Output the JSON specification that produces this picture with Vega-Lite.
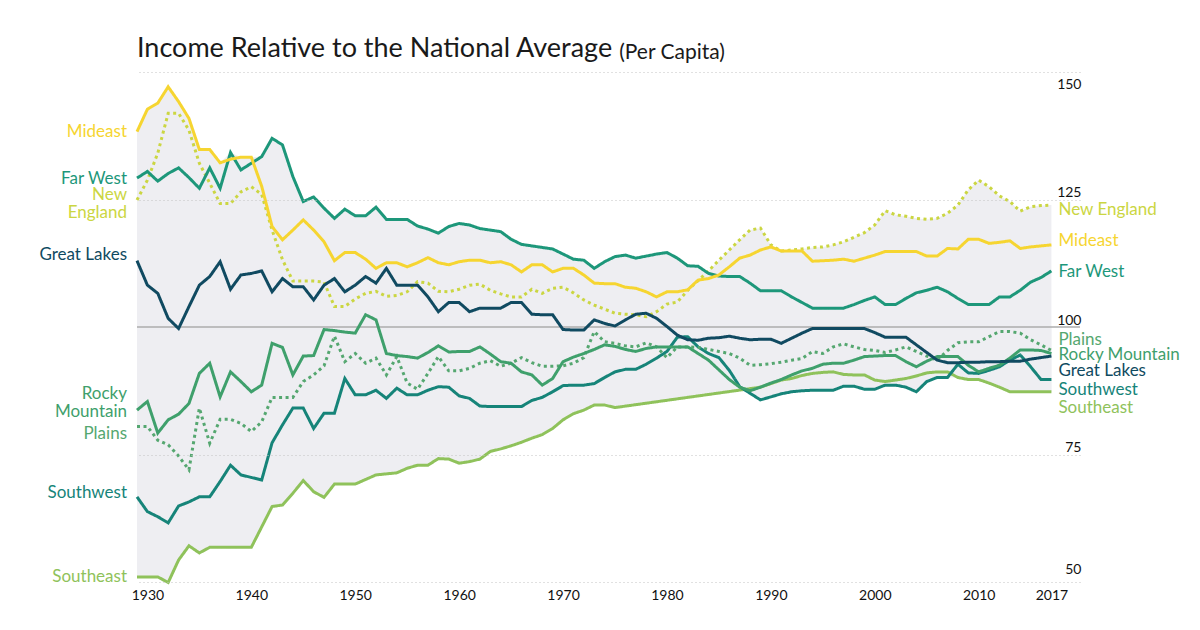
{
 "$schema": "https://vega.github.io/schema/vega-lite/v6.json",
 "width": 943, "height": 510,
 "autosize": {"type": "none"},
 "padding": {"left": 137, "top": 72, "right": 120, "bottom": 48},
 "background": "white",
 "config": {"view": {"stroke": null}, "font": "Lato"},
 "title": {
  "text": "Income Relative to the National Average",
  "anchor": "start", "frame": "group",
  "font": "Lato", "fontSize": 27, "fontWeight": "normal", "color": "#1a1a1a",
  "offset": 8, "dy": 29
 },
 "data": {"values": [
  {"year":1929,"Mideast":138.3,"Far West":129.2,"New England":124.9,"Great Lakes":113.0,"Rocky Mountain":83.7,"Plains":80.5,"Southwest":66.7,"Southeast":51.0},
  {"year":1930,"Mideast":142.7,"Far West":130.5,"New England":128.8,"Great Lakes":108.2,"Rocky Mountain":85.4,"Plains":80.5,"Southwest":63.8,"Southeast":51.0},
  {"year":1931,"Mideast":143.9,"Far West":128.6,"New England":134.1,"Great Lakes":106.6,"Rocky Mountain":79.2,"Plains":77.8,"Southwest":62.8,"Southeast":51.0},
  {"year":1932,"Mideast":147.1,"Far West":130.1,"New England":141.9,"Great Lakes":101.7,"Rocky Mountain":81.8,"Plains":76.9,"Southwest":61.6,"Southeast":49.9},
  {"year":1933,"Mideast":144.2,"Far West":131.2,"New England":141.9,"Great Lakes":99.7,"Rocky Mountain":82.9,"Plains":74.7,"Southwest":64.9,"Southeast":54.3},
  {"year":1934,"Mideast":140.9,"Far West":129.3,"New England":138.6,"Great Lakes":104.0,"Rocky Mountain":85.0,"Plains":72.0,"Southwest":65.7,"Southeast":57.1},
  {"year":1935,"Mideast":134.8,"Far West":127.2,"New England":132.1,"Great Lakes":108.2,"Rocky Mountain":90.9,"Plains":84.1,"Southwest":66.7,"Southeast":55.7},
  {"year":1936,"Mideast":134.8,"Far West":131.2,"New England":128.2,"Great Lakes":109.9,"Rocky Mountain":92.9,"Plains":77.2,"Southwest":66.7,"Southeast":56.8},
  {"year":1937,"Mideast":132.2,"Far West":127.2,"New England":124.2,"Great Lakes":112.8,"Rocky Mountain":86.3,"Plains":81.9,"Southwest":69.7,"Southeast":56.8},
  {"year":1938,"Mideast":132.9,"Far West":134.2,"New England":124.2,"Great Lakes":107.4,"Rocky Mountain":91.2,"Plains":81.9,"Southwest":72.9,"Southeast":56.8},
  {"year":1939,"Mideast":133.3,"Far West":130.8,"New England":126.5,"Great Lakes":110.2,"Rocky Mountain":89.3,"Plains":81.1,"Southwest":71.0,"Southeast":56.8},
  {"year":1940,"Mideast":133.3,"Far West":132.1,"New England":127.5,"Great Lakes":110.5,"Rocky Mountain":87.3,"Plains":79.5,"Southwest":70.5,"Southeast":56.8},
  {"year":1941,"Mideast":127.6,"Far West":133.4,"New England":126.0,"Great Lakes":111.0,"Rocky Mountain":88.6,"Plains":81.4,"Southwest":70.0,"Southeast":60.8},
  {"year":1942,"Mideast":119.7,"Far West":137.0,"New England":119.0,"Great Lakes":106.9,"Rocky Mountain":96.8,"Plains":86.2,"Southwest":77.3,"Southeast":64.8},
  {"year":1943,"Mideast":117.1,"Far West":135.7,"New England":113.2,"Great Lakes":109.5,"Rocky Mountain":96.0,"Plains":86.2,"Southwest":80.8,"Southeast":65.1},
  {"year":1944,"Mideast":119.0,"Far West":129.5,"New England":109.0,"Great Lakes":107.9,"Rocky Mountain":90.6,"Plains":86.2,"Southwest":84.1,"Southeast":67.4},
  {"year":1945,"Mideast":121.0,"Far West":124.6,"New England":109.0,"Great Lakes":107.9,"Rocky Mountain":94.3,"Plains":89.3,"Southwest":84.1,"Southeast":69.9},
  {"year":1946,"Mideast":119.0,"Far West":125.5,"New England":109.0,"Great Lakes":105.3,"Rocky Mountain":94.4,"Plains":90.6,"Southwest":80.1,"Southeast":67.7},
  {"year":1947,"Mideast":116.7,"Far West":123.3,"New England":108.8,"Great Lakes":108.2,"Rocky Mountain":99.5,"Plains":92.4,"Southwest":83.1,"Southeast":66.6},
  {"year":1948,"Mideast":113.0,"Far West":121.3,"New England":104.0,"Great Lakes":109.5,"Rocky Mountain":99.3,"Plains":98.2,"Southwest":83.1,"Southeast":69.2},
  {"year":1949,"Mideast":114.6,"Far West":123.1,"New England":104.0,"Great Lakes":106.9,"Rocky Mountain":99.0,"Plains":93.2,"Southwest":89.9,"Southeast":69.2},
  {"year":1950,"Mideast":114.6,"Far West":121.8,"New England":105.5,"Great Lakes":108.2,"Rocky Mountain":98.8,"Plains":94.8,"Southwest":86.7,"Southeast":69.2},
  {"year":1951,"Mideast":113.3,"Far West":121.8,"New England":106.6,"Great Lakes":109.9,"Rocky Mountain":102.4,"Plains":92.9,"Southwest":86.7,"Southeast":70.1},
  {"year":1952,"Mideast":111.5,"Far West":123.5,"New England":107.0,"Great Lakes":108.6,"Rocky Mountain":101.4,"Plains":93.9,"Southwest":87.6,"Southeast":71.0},
  {"year":1953,"Mideast":112.6,"Far West":121.1,"New England":106.0,"Great Lakes":111.5,"Rocky Mountain":94.8,"Plains":90.6,"Southwest":86.0,"Southeast":71.2},
  {"year":1954,"Mideast":112.6,"Far West":121.1,"New England":106.2,"Great Lakes":108.2,"Rocky Mountain":94.4,"Plains":94.2,"Southwest":88.0,"Southeast":71.4},
  {"year":1955,"Mideast":111.8,"Far West":121.1,"New England":106.9,"Great Lakes":108.2,"Rocky Mountain":94.2,"Plains":89.0,"Southwest":86.7,"Southeast":72.3},
  {"year":1956,"Mideast":112.6,"Far West":119.8,"New England":108.9,"Great Lakes":108.2,"Rocky Mountain":93.9,"Plains":87.8,"Southwest":86.7,"Southeast":72.9},
  {"year":1957,"Mideast":113.6,"Far West":119.2,"New England":108.6,"Great Lakes":105.9,"Rocky Mountain":95.0,"Plains":90.9,"Southwest":87.6,"Southeast":72.9},
  {"year":1958,"Mideast":112.6,"Far West":118.4,"New England":107.0,"Great Lakes":103.0,"Rocky Mountain":96.3,"Plains":94.2,"Southwest":88.3,"Southeast":74.2},
  {"year":1959,"Mideast":112.2,"Far West":119.7,"New England":106.9,"Great Lakes":104.8,"Rocky Mountain":95.1,"Plains":91.4,"Southwest":88.2,"Southeast":74.1},
  {"year":1960,"Mideast":112.8,"Far West":120.3,"New England":107.4,"Great Lakes":104.8,"Rocky Mountain":95.2,"Plains":91.4,"Southwest":86.5,"Southeast":73.3},
  {"year":1961,"Mideast":113.1,"Far West":120.0,"New England":108.2,"Great Lakes":103.0,"Rocky Mountain":95.2,"Plains":91.9,"Southwest":86.0,"Southeast":73.6},
  {"year":1962,"Mideast":113.1,"Far West":119.3,"New England":108.4,"Great Lakes":103.7,"Rocky Mountain":96.1,"Plains":92.9,"Southwest":84.5,"Southeast":74.1},
  {"year":1963,"Mideast":112.6,"Far West":119.0,"New England":107.2,"Great Lakes":103.7,"Rocky Mountain":94.7,"Plains":93.4,"Southwest":84.4,"Southeast":75.6},
  {"year":1964,"Mideast":112.8,"Far West":118.7,"New England":106.5,"Great Lakes":103.7,"Rocky Mountain":93.2,"Plains":92.3,"Southwest":84.4,"Southeast":76.1},
  {"year":1965,"Mideast":112.2,"Far West":117.2,"New England":105.9,"Great Lakes":104.8,"Rocky Mountain":92.9,"Plains":92.9,"Southwest":84.4,"Southeast":76.7},
  {"year":1966,"Mideast":110.8,"Far West":116.2,"New England":105.9,"Great Lakes":104.8,"Rocky Mountain":91.2,"Plains":94.0,"Southwest":84.4,"Southeast":77.4},
  {"year":1967,"Mideast":112.2,"Far West":115.9,"New England":107.4,"Great Lakes":102.5,"Rocky Mountain":90.6,"Plains":93.0,"Southwest":85.6,"Southeast":78.2},
  {"year":1968,"Mideast":112.2,"Far West":115.6,"New England":106.6,"Great Lakes":102.4,"Rocky Mountain":88.6,"Plains":92.3,"Southwest":86.2,"Southeast":78.9},
  {"year":1969,"Mideast":110.8,"Far West":115.3,"New England":107.6,"Great Lakes":102.4,"Rocky Mountain":89.9,"Plains":92.3,"Southwest":87.3,"Southeast":80.1},
  {"year":1970,"Mideast":111.5,"Far West":114.3,"New England":107.8,"Great Lakes":99.5,"Rocky Mountain":93.2,"Plains":92.4,"Southwest":88.5,"Southeast":81.8},
  {"year":1971,"Mideast":111.5,"Far West":113.3,"New England":106.7,"Great Lakes":99.4,"Rocky Mountain":94.1,"Plains":92.9,"Southwest":88.6,"Southeast":83.0},
  {"year":1972,"Mideast":110.2,"Far West":113.1,"New England":105.3,"Great Lakes":99.4,"Rocky Mountain":94.8,"Plains":94.0,"Southwest":88.6,"Southeast":83.7},
  {"year":1973,"Mideast":108.6,"Far West":111.5,"New England":104.3,"Great Lakes":101.4,"Rocky Mountain":95.6,"Plains":99.1,"Southwest":88.9,"Southeast":84.7},
  {"year":1974,"Mideast":108.5,"Far West":112.8,"New England":103.5,"Great Lakes":100.7,"Rocky Mountain":96.5,"Plains":97.1,"Southwest":90.1,"Southeast":84.7},
  {"year":1975,"Mideast":108.5,"Far West":113.8,"New England":102.7,"Great Lakes":100.2,"Rocky Mountain":96.2,"Plains":96.8,"Southwest":91.2,"Southeast":84.2},
  {"year":1976,"Mideast":107.8,"Far West":114.1,"New England":102.5,"Great Lakes":101.4,"Rocky Mountain":95.6,"Plains":96.3,"Southwest":91.7},
  {"year":1977,"Mideast":107.6,"Far West":113.5,"New England":102.4,"Great Lakes":102.5,"Rocky Mountain":95.2,"Plains":96.1,"Southwest":91.7},
  {"year":1978,"Mideast":106.9,"Far West":113.9,"New England":102.0,"Great Lakes":102.7,"Rocky Mountain":95.8,"Plains":96.9,"Southwest":92.7},
  {"year":1979,"Mideast":105.9,"Far West":114.3,"New England":103.0,"Great Lakes":101.7,"Rocky Mountain":96.1,"Plains":96.1,"Southwest":93.9},
  {"year":1980,"Mideast":106.9,"Far West":114.6,"New England":104.5,"Great Lakes":100.1,"Rocky Mountain":96.1,"Plains":94.0,"Southwest":95.2},
  {"year":1981,"Mideast":106.9,"Far West":113.5,"New England":104.9,"Great Lakes":98.4,"Rocky Mountain":96.1,"Plains":96.1,"Southwest":98.0},
  {"year":1982,"Mideast":107.3,"Far West":112.0,"New England":107.2,"Great Lakes":97.5,"Rocky Mountain":96.1,"Plains":96.1,"Southwest":98.1},
  {"year":1983,"Mideast":109.2,"Far West":111.9,"New England":109.1,"Great Lakes":97.4,"Rocky Mountain":94.8,"Plains":96.0,"Southwest":96.1},
  {"year":1984,"Mideast":109.5,"Far West":110.5,"New England":111.0,"Great Lakes":97.8,"Rocky Mountain":93.5,"Plains":95.6,"Southwest":94.8},
  {"year":1985,"Mideast":110.2,"Far West":110.0,"New England":113.1,"Great Lakes":97.9,"Rocky Mountain":91.6,"Plains":95.2,"Southwest":94.0},
  {"year":1986,"Mideast":111.8,"Far West":109.9,"New England":115.1,"Great Lakes":98.2,"Rocky Mountain":89.7,"Plains":94.8,"Southwest":91.5},
  {"year":1987,"Mideast":113.5,"Far West":109.9,"New England":117.1,"Great Lakes":97.8,"Rocky Mountain":88.2,"Plains":93.9,"Southwest":88.3},
  {"year":1988,"Mideast":114.1,"Far West":108.6,"New England":119.0,"Great Lakes":97.5,"Rocky Mountain":87.5,"Plains":92.5,"Southwest":87.0},
  {"year":1989,"Mideast":115.1,"Far West":107.1,"New England":119.4,"Great Lakes":97.6,"Rocky Mountain":88.2,"Plains":92.6,"Southwest":85.7,"Southeast":88.2},
  {"year":1990,"Mideast":115.7,"Far West":107.1,"New England":116.1,"Great Lakes":97.6,"Rocky Mountain":89.0,"Plains":92.8,"Southwest":86.3,"Southeast":88.9},
  {"year":1991,"Mideast":114.9,"Far West":107.1,"New England":114.9,"Great Lakes":96.8,"Rocky Mountain":89.7,"Plains":93.1,"Southwest":86.9,"Southeast":89.6},
  {"year":1992,"Mideast":114.9,"Far West":105.9,"New England":115.1,"Great Lakes":97.8,"Rocky Mountain":90.6,"Plains":93.5,"Southwest":87.3,"Southeast":89.9},
  {"year":1993,"Mideast":114.9,"Far West":104.8,"New England":115.3,"Great Lakes":98.8,"Rocky Mountain":91.4,"Plains":93.8,"Southwest":87.5,"Southeast":90.5},
  {"year":1994,"Mideast":112.9,"Far West":103.7,"New England":115.6,"Great Lakes":99.7,"Rocky Mountain":91.9,"Plains":95.2,"Southwest":87.6,"Southeast":90.9},
  {"year":1995,"Mideast":113.0,"Far West":103.7,"New England":115.7,"Great Lakes":99.7,"Rocky Mountain":92.7,"Plains":94.8,"Southwest":87.6,"Southeast":91.1},
  {"year":1996,"Mideast":113.1,"Far West":103.7,"New England":116.1,"Great Lakes":99.7,"Rocky Mountain":92.9,"Plains":96.1,"Southwest":87.6,"Southeast":91.2},
  {"year":1997,"Mideast":113.3,"Far West":103.7,"New England":116.7,"Great Lakes":99.7,"Rocky Mountain":92.9,"Plains":96.7,"Southwest":88.4,"Southeast":90.7},
  {"year":1998,"Mideast":112.9,"Far West":104.4,"New England":117.6,"Great Lakes":99.7,"Rocky Mountain":93.5,"Plains":96.1,"Southwest":88.4,"Southeast":90.6},
  {"year":1999,"Mideast":113.5,"Far West":105.2,"New England":118.5,"Great Lakes":99.7,"Rocky Mountain":94.2,"Plains":95.6,"Southwest":87.8,"Southeast":90.6},
  {"year":2000,"Mideast":114.1,"Far West":105.9,"New England":120.0,"Great Lakes":98.9,"Rocky Mountain":94.3,"Plains":95.4,"Southwest":87.8,"Southeast":89.6},
  {"year":2001,"Mideast":114.8,"Far West":104.4,"New England":122.8,"Great Lakes":98.0,"Rocky Mountain":94.4,"Plains":95.0,"Southwest":88.6,"Southeast":89.3},
  {"year":2002,"Mideast":114.8,"Far West":104.4,"New England":122.0,"Great Lakes":98.0,"Rocky Mountain":94.4,"Plains":95.5,"Southwest":88.6,"Southeast":89.6},
  {"year":2003,"Mideast":114.8,"Far West":105.6,"New England":121.7,"Great Lakes":98.0,"Rocky Mountain":93.2,"Plains":96.1,"Southwest":88.2,"Southeast":89.9},
  {"year":2004,"Mideast":114.8,"Far West":106.7,"New England":121.3,"Great Lakes":96.5,"Rocky Mountain":92.2,"Plains":95.2,"Southwest":87.3,"Southeast":90.4},
  {"year":2005,"Mideast":113.9,"Far West":107.2,"New England":121.1,"Great Lakes":95.0,"Rocky Mountain":93.3,"Plains":94.3,"Southwest":89.3,"Southeast":91.0},
  {"year":2006,"Mideast":113.9,"Far West":107.8,"New England":121.3,"Great Lakes":93.5,"Rocky Mountain":94.2,"Plains":93.5,"Southwest":90.1,"Southeast":91.2},
  {"year":2007,"Mideast":115.4,"Far West":106.9,"New England":122.3,"Great Lakes":93.0,"Rocky Mountain":94.2,"Plains":95.4,"Southwest":90.1,"Southeast":91.2},
  {"year":2008,"Mideast":115.3,"Far West":105.6,"New England":123.9,"Great Lakes":93.0,"Rocky Mountain":94.2,"Plains":96.9,"Southwest":92.7,"Southeast":90.1},
  {"year":2009,"Mideast":117.2,"Far West":104.4,"New England":126.9,"Great Lakes":93.1,"Rocky Mountain":92.5,"Plains":97.1,"Southwest":91.0,"Southeast":89.7},
  {"year":2010,"Mideast":117.2,"Far West":104.4,"New England":128.8,"Great Lakes":93.1,"Rocky Mountain":91.2,"Plains":97.1,"Southwest":90.9,"Southeast":89.7},
  {"year":2011,"Mideast":116.4,"Far West":104.4,"New England":127.5,"Great Lakes":93.2,"Rocky Mountain":91.9,"Plains":98.1,"Southwest":91.5,"Southeast":89.0},
  {"year":2012,"Mideast":116.6,"Far West":105.9,"New England":125.7,"Great Lakes":93.2,"Rocky Mountain":92.5,"Plains":99.1,"Southwest":92.2,"Southeast":88.2},
  {"year":2013,"Mideast":116.9,"Far West":105.9,"New England":124.6,"Great Lakes":93.3,"Rocky Mountain":93.9,"Plains":99.1,"Southwest":93.5,"Southeast":87.3},
  {"year":2014,"Mideast":115.4,"Far West":107.2,"New England":122.7,"Great Lakes":93.3,"Rocky Mountain":95.5,"Plains":98.8,"Southwest":94.5,"Southeast":87.3},
  {"year":2015,"Mideast":115.7,"Far West":108.8,"New England":123.6,"Great Lakes":93.7,"Rocky Mountain":95.5,"Plains":97.5,"Southwest":92.2,"Southeast":87.3},
  {"year":2016,"Mideast":115.9,"Far West":109.7,"New England":123.8,"Great Lakes":94.0,"Rocky Mountain":95.4,"Plains":96.5,"Southwest":89.7,"Southeast":87.3},
  {"year":2017,"Mideast":116.1,"Far West":111.0,"New England":123.9,"Great Lakes":94.3,"Rocky Mountain":94.8,"Plains":95.4,"Southwest":89.7,"Southeast":87.3}
 ]},
 "transform": [
  {"fold": ["Southeast","Southwest","Plains","Rocky Mountain","New England","Far West","Mideast","Great Lakes"], "as": ["region","value"]},
  {"filter": "isValid(datum.value)"}
 ],
 "layer": [
  {
   "transform": [{"aggregate": [{"op":"max","field":"value","as":"hi"},{"op":"min","field":"value","as":"lo"}], "groupby": ["year"]}],
   "mark": {"type": "area", "color": "#eeeef2"},
   "encoding": {
    "x": {"field":"year","type":"quantitative","title":null,"scale":{"domain":[1929,2019.75],"nice":false,"zero":false},
     "axis":{"values":[1930,1940,1950,1960,1970,1980,1990,2000,2010,2017],"format":"d","title":null,"domain":false,"ticks":false,"grid":false,"labelFontSize":14,"labelColor":"#111111","labelPadding":6,"labelFont":"Lato","labelFlush":false}},
    "y": {"field":"hi","type":"quantitative","title":null,"scale":{"domain":[50,150],"nice":false,"zero":false},
     "axis":{"orient":"right","values":[50,75,100,125,150],"title":null,"domain":false,"ticks":false,"grid":true,"gridColor":"#c2c2c2","gridDash":[1,3],"gridWidth":1,
      "gridOpacity":{"condition":{"test":"datum.value == 100","value":0},"value":1},
      "zindex":1,"labelAlign":"right","labelPadding":1,"labelFontSize":14,"labelColor":"#111111","labelFont":"Lato",
      "labelBaseline":{"condition":{"test":"datum.value == 150","value":"top"},"value":"alphabetic"},
      "labelOffset":{"condition":[{"test":"datum.value == 150","value":5},{"test":"datum.value == 50","value":-9}],"value":-3}}},
    "y2": {"field":"lo"}
   }
  },
  {
   "transform": [{"filter": "datum.region == 'Southeast'"}],
   "mark": {"type": "area", "color": "#eeeef2"},
   "encoding": {
    "x": {"field":"year","type":"quantitative","title":null},
    "y": {"field":"value","type":"quantitative","title":null},
    "y2": {"datum": 100}
   }
  },
  {
   "transform": [{"aggregate": [{"op":"count","as":"n"}]}],
   "mark": {"type": "rule", "color": "#acacac", "strokeWidth": 1.5},
   "encoding": {
    "y": {"datum": 100, "type":"quantitative","title":null}
   }
  },
  {
   "transform": [{"aggregate": [{"op":"count","as":"n"}]}],
   "mark": {"type": "text", "align": "left", "baseline": "alphabetic", "fontSize": 21, "font": "Lato", "color": "#1a1a1a"},
   "encoding": {
    "x": {"datum": 1975.4, "type":"quantitative"},
    "y": {"datum": 152.6, "type":"quantitative"},
    "text": {"value": "(Per Capita)"}
   }
  },
  {
   "mark": {"type": "line", "strokeWidth": 3},
   "encoding": {
    "x": {"field":"year","type":"quantitative","title":null},
    "y": {"field":"value","type":"quantitative","title":null},
    "color": {"field":"region","type":"nominal","legend":null,
     "scale":{"domain":["Mideast","New England","Far West","Great Lakes","Rocky Mountain","Plains","Southwest","Southeast"],
      "range":["#f6d531","#cbd642","#1d977a","#104a61","#3fa06c","#55a770","#168479","#8fc25b"]}},
    "strokeDash": {"field":"region","type":"nominal","legend":null,
     "scale":{"domain":["Mideast","New England","Far West","Great Lakes","Rocky Mountain","Plains","Southwest","Southeast"],
      "range":[[1,0],[3,3.5],[1,0],[1,0],[1,0],[3,3.5],[1,0],[1,0]]}}
   }
  },
  {"transform":[{"filter":"datum.year == 1929 && datum.region == 'Mideast'"}],"mark":{"type":"text","align":"right","baseline":"middle","dx":-10,"dy":0,"fontSize":17,"font":"Lato"},"encoding":{"x":{"field":"year","type":"quantitative","title":null},"y":{"field":"value","type":"quantitative","title":null},"text":{"field":"region"},"color":{"field":"region","type":"nominal","legend":null}}},
  {"transform":[{"filter":"datum.year == 1929 && datum.region == 'Far West'"}],"mark":{"type":"text","align":"right","baseline":"middle","dx":-10,"dy":1,"fontSize":17,"font":"Lato"},"encoding":{"x":{"field":"year","type":"quantitative","title":null},"y":{"field":"value","type":"quantitative","title":null},"text":{"field":"region"},"color":{"field":"region","type":"nominal","legend":null}}},
  {"transform":[{"filter":"datum.year == 1929 && datum.region == 'New England'"}],"mark":{"type":"text","align":"right","baseline":"middle","dx":-10,"dy":-5,"fontSize":17,"font":"Lato","lineBreak":" ","lineHeight":18},"encoding":{"x":{"field":"year","type":"quantitative","title":null},"y":{"field":"value","type":"quantitative","title":null},"text":{"field":"region"},"color":{"field":"region","type":"nominal","legend":null}}},
  {"transform":[{"filter":"datum.year == 1929 && datum.region == 'Great Lakes'"}],"mark":{"type":"text","align":"right","baseline":"middle","dx":-10,"dy":-6,"fontSize":17,"font":"Lato"},"encoding":{"x":{"field":"year","type":"quantitative","title":null},"y":{"field":"value","type":"quantitative","title":null},"text":{"field":"region"},"color":{"field":"region","type":"nominal","legend":null}}},
  {"transform":[{"filter":"datum.year == 1929 && datum.region == 'Rocky Mountain'"}],"mark":{"type":"text","align":"right","baseline":"middle","dx":-10,"dy":-16,"fontSize":17,"font":"Lato","lineBreak":" ","lineHeight":18},"encoding":{"x":{"field":"year","type":"quantitative","title":null},"y":{"field":"value","type":"quantitative","title":null},"text":{"field":"region"},"color":{"field":"region","type":"nominal","legend":null}}},
  {"transform":[{"filter":"datum.year == 1929 && datum.region == 'Plains'"}],"mark":{"type":"text","align":"right","baseline":"middle","dx":-10,"dy":8,"fontSize":17,"font":"Lato"},"encoding":{"x":{"field":"year","type":"quantitative","title":null},"y":{"field":"value","type":"quantitative","title":null},"text":{"field":"region"},"color":{"field":"region","type":"nominal","legend":null}}},
  {"transform":[{"filter":"datum.year == 1929 && datum.region == 'Southwest'"}],"mark":{"type":"text","align":"right","baseline":"middle","dx":-10,"dy":-4,"fontSize":17,"font":"Lato"},"encoding":{"x":{"field":"year","type":"quantitative","title":null},"y":{"field":"value","type":"quantitative","title":null},"text":{"field":"region"},"color":{"field":"region","type":"nominal","legend":null}}},
  {"transform":[{"filter":"datum.year == 1929 && datum.region == 'Southeast'"}],"mark":{"type":"text","align":"right","baseline":"middle","dx":-10,"dy":0,"fontSize":17,"font":"Lato"},"encoding":{"x":{"field":"year","type":"quantitative","title":null},"y":{"field":"value","type":"quantitative","title":null},"text":{"field":"region"},"color":{"field":"region","type":"nominal","legend":null}}},
  {"transform":[{"filter":"datum.year == 2017 && datum.region == 'New England'"}],"mark":{"type":"text","align":"left","baseline":"middle","dx":7,"dy":5,"fontSize":17,"font":"Lato"},"encoding":{"x":{"field":"year","type":"quantitative","title":null},"y":{"field":"value","type":"quantitative","title":null},"text":{"field":"region"},"color":{"field":"region","type":"nominal","legend":null}}},
  {"transform":[{"filter":"datum.year == 2017 && datum.region == 'Mideast'"}],"mark":{"type":"text","align":"left","baseline":"middle","dx":7,"dy":-4,"fontSize":17,"font":"Lato"},"encoding":{"x":{"field":"year","type":"quantitative","title":null},"y":{"field":"value","type":"quantitative","title":null},"text":{"field":"region"},"color":{"field":"region","type":"nominal","legend":null}}},
  {"transform":[{"filter":"datum.year == 2017 && datum.region == 'Far West'"}],"mark":{"type":"text","align":"left","baseline":"middle","dx":7,"dy":1,"fontSize":17,"font":"Lato"},"encoding":{"x":{"field":"year","type":"quantitative","title":null},"y":{"field":"value","type":"quantitative","title":null},"text":{"field":"region"},"color":{"field":"region","type":"nominal","legend":null}}},
  {"transform":[{"filter":"datum.year == 2017 && datum.region == 'Plains'"}],"mark":{"type":"text","align":"left","baseline":"middle","dx":7,"dy":-10,"fontSize":17,"font":"Lato"},"encoding":{"x":{"field":"year","type":"quantitative","title":null},"y":{"field":"value","type":"quantitative","title":null},"text":{"field":"region"},"color":{"field":"region","type":"nominal","legend":null}}},
  {"transform":[{"filter":"datum.year == 2017 && datum.region == 'Rocky Mountain'"}],"mark":{"type":"text","align":"left","baseline":"middle","dx":7,"dy":1.5,"fontSize":17,"font":"Lato"},"encoding":{"x":{"field":"year","type":"quantitative","title":null},"y":{"field":"value","type":"quantitative","title":null},"text":{"field":"region"},"color":{"field":"region","type":"nominal","legend":null}}},
  {"transform":[{"filter":"datum.year == 2017 && datum.region == 'Great Lakes'"}],"mark":{"type":"text","align":"left","baseline":"middle","dx":7,"dy":15,"fontSize":17,"font":"Lato"},"encoding":{"x":{"field":"year","type":"quantitative","title":null},"y":{"field":"value","type":"quantitative","title":null},"text":{"field":"region"},"color":{"field":"region","type":"nominal","legend":null}}},
  {"transform":[{"filter":"datum.year == 2017 && datum.region == 'Southwest'"}],"mark":{"type":"text","align":"left","baseline":"middle","dx":7,"dy":10.5,"fontSize":17,"font":"Lato"},"encoding":{"x":{"field":"year","type":"quantitative","title":null},"y":{"field":"value","type":"quantitative","title":null},"text":{"field":"region"},"color":{"field":"region","type":"nominal","legend":null}}},
  {"transform":[{"filter":"datum.year == 2017 && datum.region == 'Southeast'"}],"mark":{"type":"text","align":"left","baseline":"middle","dx":7,"dy":16,"fontSize":17,"font":"Lato"},"encoding":{"x":{"field":"year","type":"quantitative","title":null},"y":{"field":"value","type":"quantitative","title":null},"text":{"field":"region"},"color":{"field":"region","type":"nominal","legend":null}}}
 ]
}
